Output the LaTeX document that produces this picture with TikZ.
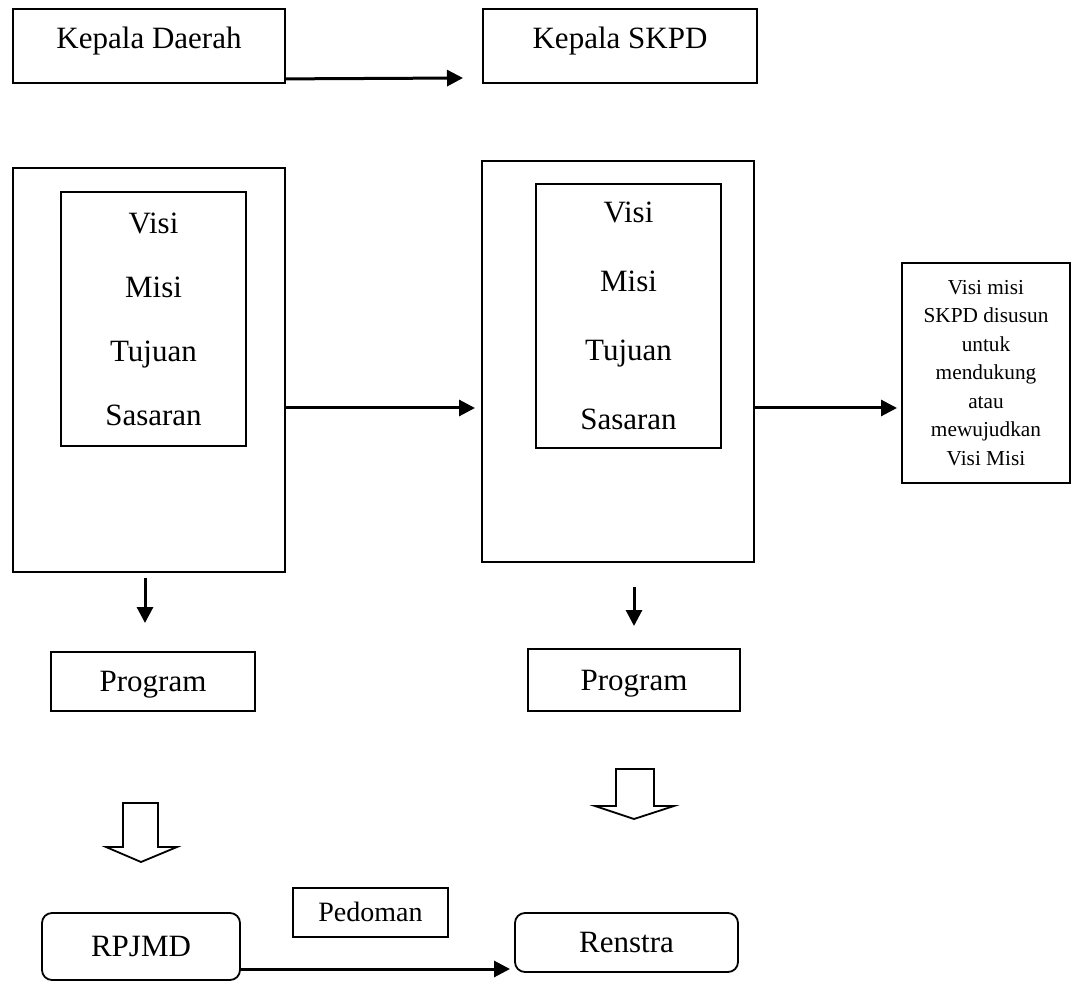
\documentclass[tikz,border=0pt]{standalone}
\usepackage{fontspec}
\setmainfont{Liberation Serif}
\usetikzlibrary{arrows.meta,calc}
\begin{document}
\begin{tikzpicture}[x=1pt,y=-1pt,
  box/.style={draw=black, line width=1.8pt, rectangle, inner sep=0pt, align=center},
  rbox/.style={box, rounded corners=10pt},
  arr/.style={draw=black, line width=3pt, -{Triangle[length=16pt,width=16pt]}},
  big/.style={font=\fontsize{31}{37}\selectfont, text height=20.5pt, text depth=0pt},
  hollow/.style={draw=black, line width=1.8pt, line join=miter}
]
\useasboundingbox (0,0) rectangle (1071,981);

% top row
\node[box, big, text depth=14.5pt, minimum width=272pt, minimum height=74pt] (kd) at (149,46) {Kepala Daerah};
\node[box, big, text depth=14.5pt, minimum width=274pt, minimum height=74pt] (ks) at (620,46) {Kepala SKPD};
\coordinate (kend) at (463,78);
\draw[arr] ($(kd.south east)+(0,-5)$) -- (kend);

% big boxes
\node[box, minimum width=272pt, minimum height=404pt] (bl) at (149,370) {};
\node[box, font=\fontsize{31}{64}\selectfont, minimum width=185pt, minimum height=254pt] (il) at (153.5,319) {Visi\\Misi\\Tujuan\\Sasaran};
\node[box, minimum width=272pt, minimum height=401pt] (br) at (618,361.5) {};
\node[box, font=\fontsize{31}{69}\selectfont, minimum width=185pt, minimum height=264pt] (ir) at (628.5,316) {Visi\\Misi\\Tujuan\\Sasaran};

\node[box, font=\fontsize{21.3}{28.5}\selectfont, minimum width=168pt, minimum height=220pt] (vm) at (986,373)
  {Visi misi\\SKPD disusun\\untuk\\mendukung\\atau\\mewujudkan\\Visi Misi};

\coordinate (c1) at (475,408);
\coordinate (c2) at (897,408);
\draw[arr] (bl.east |- c1) -- (c1);
\draw[arr] (br.east |- c2) -- (c2);

% down arrows
\coordinate (d1s) at (145,578);
\coordinate (d1e) at (145,623);
\coordinate (d2s) at (634,587);
\coordinate (d2e) at (634,626);
\draw[arr] (d1s) -- (d1e);
\draw[arr] (d2s) -- (d2e);

% programs
\node[box, big, minimum width=204pt, minimum height=59pt] (pl) at (153,681.5) {Program};
\node[box, big, minimum width=212pt, minimum height=62pt] (pr) at (634,680) {Program};

% hollow arrows
\draw[hollow] (123,803) -- (158,803) -- (158,847) -- (177,847) -- (141,862) -- (106,847) -- (123,847) -- cycle;
\draw[hollow] (616,769) -- (654,769) -- (654,806) -- (674,806) -- (634,819) -- (595,806) -- (616,806) -- cycle;

% bottom row
\node[rbox, big, minimum width=198pt, minimum height=67pt] (rp) at (141,946.5) {RPJMD};
\node[rbox, big, minimum width=223pt, minimum height=59pt] (rs) at (626.5,942.5) {Renstra};
\node[box, font=\fontsize{28}{33}\selectfont, text height=18.5pt, text depth=-5pt, minimum width=155pt, minimum height=49pt] (pd) at (370.5,912.5) {Pedoman};
\coordinate (c3) at (510,969);
\draw[arr] (rp.east |- c3) -- (c3);
\end{tikzpicture}
\end{document}
